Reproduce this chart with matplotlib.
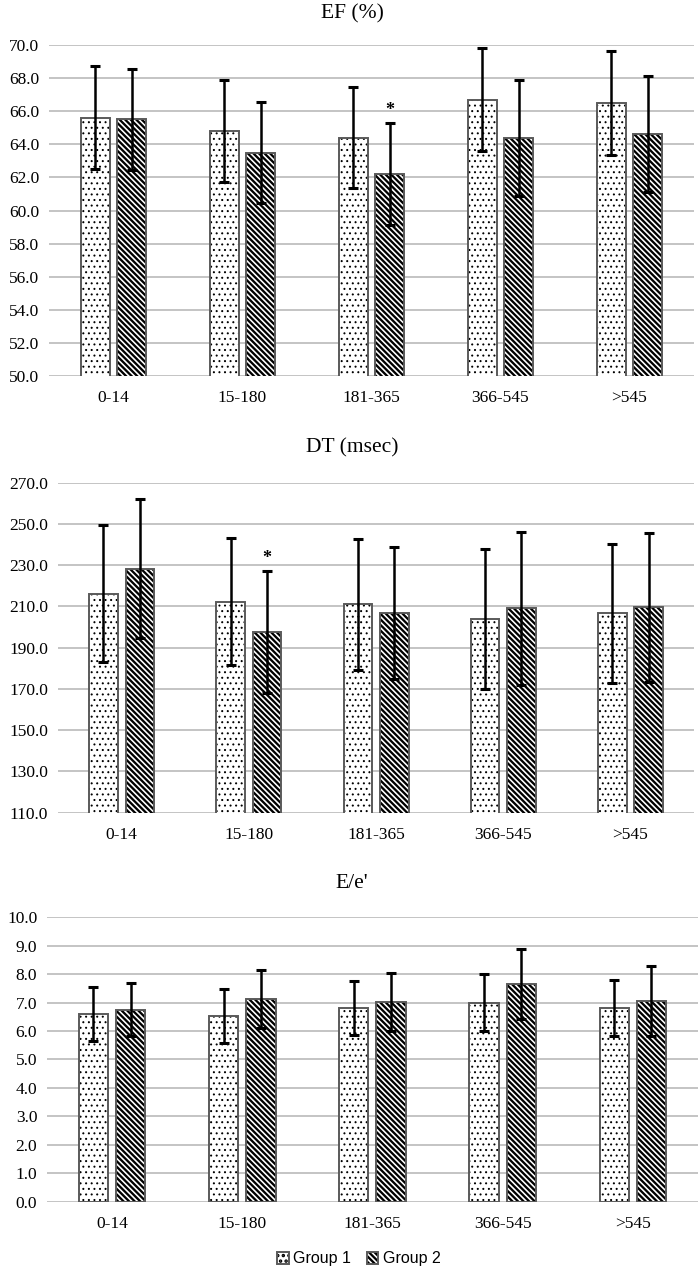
import matplotlib
matplotlib.use("Agg")
import matplotlib.pyplot as plt
import numpy as np

categories = ["0-14", "15-180", "181-365", "366-545", ">545"]
series_names = ["Group 1", "Group 2"]

ef_g1 = [65.6, 64.8, 64.4, 66.7, 66.5]
ef_g1_err = [3.1, 3.1, 3.05, 3.1, 3.15]
ef_g2 = [65.5, 63.5, 62.2, 64.4, 64.6]
ef_g2_err = [3.05, 3.05, 3.1, 3.5, 3.5]
ef_star = [None, None, 1, None, None]

dt_g1 = [216.2, 212.3, 211.0, 203.9, 206.6]
dt_g1_err = [33.2, 30.7, 31.6, 34.1, 33.9]
dt_g2 = [228.3, 197.4, 206.6, 209.1, 209.6]
dt_g2_err = [33.8, 29.6, 32.0, 37.0, 36.0]
dt_star = [None, 1, None, None, None]

ee_g1 = [6.59, 6.53, 6.81, 7.0, 6.81]
ee_g1_err = [0.95, 0.95, 0.96, 1.01, 0.98]
ee_g2 = [6.75, 7.12, 7.02, 7.66, 7.06]
ee_g2_err = [0.94, 1.02, 1.03, 1.24, 1.24]
ee_star = [None, None, None, None, None]

panels = [
    dict(title="EF (%)", g1=ef_g1, e1=ef_g1_err, g2=ef_g2, e2=ef_g2_err, star=ef_star,
         ylim=(50, 70), step=2.0, rect=[0.070, 0.7039, 0.9214, 0.2607], ty=1 - 14 / 1270),
    dict(title="DT (msec)", g1=dt_g1, e1=dt_g1_err, g2=dt_g2, e2=dt_g2_err, star=dt_star,
         ylim=(110, 270), step=20.0, rect=[0.0829, 0.3601, 0.9086, 0.2598], ty=1 - 448 / 1270),
    dict(title="E/e'", g1=ee_g1, e1=ee_g1_err, g2=ee_g2, e2=ee_g2_err, star=ee_star,
         ylim=(0, 10), step=1.0, rect=[0.0671, 0.0538, 0.9300, 0.2239], ty=1 - 883 / 1270),
]

serif = ["Liberation Serif", "DejaVu Serif"]
DOT_LW = 0.7
STRIPE_LW = 1.65
DOT_HATCH = "..."
STRIPE_HATCH = "\\" * 6


def style_bars(bars, lw):
    for b in bars:
        b._hatch_color = (0, 0, 0, 1)
        if hasattr(b, "set_hatch_linewidth"):
            b.set_hatch_linewidth(lw)


fig = plt.figure(figsize=(7, 12.7), dpi=100)
x = np.arange(len(categories))
bw = 0.225
off = 0.143
edge = "#5a5a5a"
handles = None
for p in panels:
    ax = fig.add_axes(p["rect"])
    plt.rcParams['hatch.linewidth'] = DOT_LW
    b1 = ax.bar(x - off, p["g1"], bw, color="white", edgecolor=edge,
                linewidth=1.4, hatch=DOT_HATCH, zorder=3, label=series_names[0])
    style_bars(b1, DOT_LW)
    plt.rcParams['hatch.linewidth'] = STRIPE_LW
    b2 = ax.bar(x + off, p["g2"], bw, color="white", edgecolor=edge,
                linewidth=1.4, hatch=STRIPE_HATCH, zorder=3, label=series_names[1])
    style_bars(b2, STRIPE_LW)
    ax.errorbar(x - off, p["g1"], yerr=p["e1"], fmt="none", ecolor="black",
                elinewidth=1.8, capsize=3.5, capthick=2.2, zorder=4)
    ax.errorbar(x + off, p["g2"], yerr=p["e2"], fmt="none", ecolor="black",
                elinewidth=1.8, capsize=3.5, capthick=2.2, zorder=4)
    lo, hi = p["ylim"]
    for i, s in enumerate(p["star"]):
        if s:
            ax.annotate("*", (x[i] + off, p["g2"][i] + p["e2"][i]), xytext=(0, 3),
                        textcoords="offset points", ha="center", va="bottom",
                        fontsize=13, fontweight="bold", family=serif, zorder=5)
    ax.set_ylim(lo, hi)
    ax.set_xlim(-0.5, len(categories) - 0.5)
    ticks = np.arange(lo, hi + p["step"] / 2, p["step"])
    ax.set_yticks(ticks)
    ax.set_yticklabels([f"{t:.1f}" for t in ticks], family=serif, fontsize=12.5)
    ax.set_xticks(x)
    ax.set_xticklabels(categories, family=serif, fontsize=12.5)
    ax.tick_params(axis="both", length=0)
    ax.tick_params(axis="x", pad=10)
    ax.tick_params(axis="y", pad=7)
    for sp in ax.spines.values():
        sp.set_visible(False)
    ax.yaxis.grid(True, color="#c4c4c4", linewidth=1.4, zorder=0)
    ax.set_axisbelow(True)
    fig.text(0.503, p["ty"], p["title"], ha="center", va="center",
             family=serif, fontsize=15.5)
    handles = (b1, b2)

leg = fig.legend(handles, series_names, loc="center", bbox_to_anchor=(0.513, 1 - 1259 / 1270),
                 ncol=2, frameon=False, prop=dict(family=["Liberation Sans", "DejaVu Sans"], size=11.5),
                 handlelength=0.7, handleheight=0.7, handletextpad=0.3, columnspacing=1.0)

fig.savefig("out.png", dpi=100, facecolor="white")
